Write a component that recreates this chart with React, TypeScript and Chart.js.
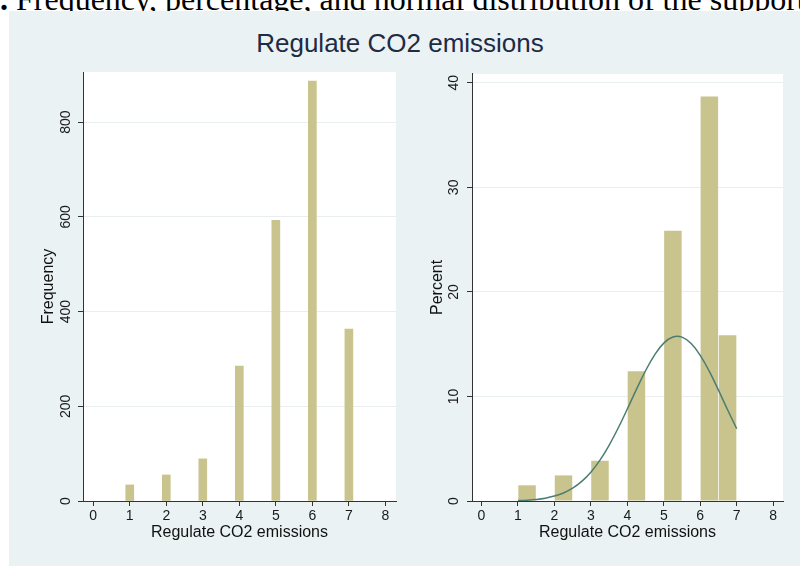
import React, { useEffect, useRef } from 'react';
import { Chart, registerables } from 'chart.js';

Chart.register(...registerables);
Chart.defaults.font.family = "'Liberation Sans', Arial, Helvetica, sans-serif";

// ---- data ----
const responseValues = [1, 2, 3, 4, 5, 6, 7];
const frequencies = [34, 55, 89, 285, 593, 887, 363];

const binStarts = [1, 2, 3, 4, 5, 6, 6.5];
const binWidth = 0.5;
const percents = [1.5, 2.45, 3.85, 12.4, 25.85, 38.7, 15.85];

const curveX = [1, 1.25, 1.5, 1.75, 2, 2.25, 2.5, 2.75, 3, 3.25, 3.5, 3.75, 4, 4.25, 4.5, 4.75, 5, 5.25, 5.5, 5.75, 6, 6.25, 6.5, 6.75, 7];
const curveY = [0.04, 0.08, 0.15, 0.27, 0.47, 0.77, 1.23, 1.88, 2.76, 3.91, 5.33, 6.98, 8.8, 10.68, 12.46, 13.98, 15.1, 15.68, 15.67, 15.06, 13.93, 12.39, 10.6, 8.73, 6.91];

const xTickValues = [0, 1, 2, 3, 4, 5, 6, 7, 8];
const freqTicks = [0, 200, 400, 600, 800];
const percentTicks = [0, 10, 20, 30, 40];

const figureTitle = 'Regulate CO2 emissions';
const xTitle = 'Regulate CO2 emissions';

// ---- styles ----
const BAR = '#c9c48d';
const CURVE = '#4b7d72';
const AXIS = '#333333';
const GRID = '#e9eff0';
const PANEL = '#eaf2f3';

const plotBg = {
  id: 'plotBg',
  beforeDraw(chart: any) {
    const { ctx, chartArea } = chart;
    if (!chartArea) return;
    ctx.save();
    ctx.fillStyle = '#ffffff';
    ctx.fillRect(chartArea.left, chartArea.top, chartArea.right - chartArea.left, chartArea.bottom - chartArea.top);
    ctx.restore();
  },
};

function xScale(min: number, max: number) {
  return {
    type: 'linear',
    min,
    max,
    offset: false,
    afterBuildTicks: (s: any) => {
      s.ticks = xTickValues.map((v) => ({ value: v }));
    },
    afterFit: (s: any) => {
      s.height = 65;
    },
    grid: { display: true, drawOnChartArea: false, drawTicks: true, tickLength: 5, tickColor: AXIS, offset: false },
    border: { display: true, color: AXIS, width: 1 },
    ticks: { padding: 2, color: '#1a1a1a', font: { size: 14 }, maxRotation: 0, minRotation: 0, autoSkip: false },
    title: { display: true, text: xTitle, color: '#111', font: { size: 16 }, padding: { top: 0, bottom: 23.6 } },
  };
}

function yScale(max: number, ticks: number[], width: number, tickPad: number, title: string, titlePad: number) {
  return {
    type: 'linear',
    min: 0,
    max,
    afterBuildTicks: (s: any) => {
      s.ticks = ticks.map((v) => ({ value: v }));
    },
    afterFit: (s: any) => {
      s.width = width;
    },
    grid: {
      color: (c: any) => (c.tick && c.tick.value === 0 ? 'rgba(0,0,0,0)' : GRID),
      drawTicks: true,
      tickLength: 5,
      tickColor: AXIS,
    },
    border: { display: true, color: AXIS, width: 1 },
    ticks: { minRotation: 90, maxRotation: 90, crossAlign: 'center', padding: tickPad, color: '#1a1a1a', font: { size: 14 } },
    title: { display: true, text: title, color: '#111', font: { size: 16 }, padding: { top: titlePad, bottom: 0 } },
  };
}

function useChart(ref: React.RefObject<HTMLCanvasElement | null>, makeConfig: () => any) {
  useEffect(() => {
    if (!ref.current) return;
    const chart = new Chart(ref.current, makeConfig());
    return () => chart.destroy();
  }, []);
}

function FrequencyChart() {
  const ref = useRef<HTMLCanvasElement>(null);
  useChart(ref, () => ({
    type: 'bar',
    data: {
      datasets: [
        {
          label: 'Frequency',
          data: responseValues.map((v, i) => ({ x: v, y: frequencies[i] })),
          backgroundColor: BAR,
          borderWidth: 0,
          barThickness: 8,
        },
      ],
    },
    options: {
      responsive: false,
      animation: false,
      layout: { padding: { left: 0, right: 4, top: 12, bottom: 0 } },
      plugins: { legend: { display: false }, tooltip: { enabled: false } },
      scales: {
        x: xScale(-0.28, 8.29),
        y: yScale(906, freqTicks, 74, 0, 'Frequency', 30),
      },
    },
    plugins: [plotBg],
  }));
  return <canvas ref={ref} width={391} height={506} style={{ display: 'block' }} />;
}

function PercentChart() {
  const ref = useRef<HTMLCanvasElement>(null);
  useChart(ref, () => ({
    type: 'bar',
    data: {
      datasets: [
        {
          type: 'line',
          label: 'Normal density',
          data: curveX.map((x, i) => ({ x, y: curveY[i] })),
          borderColor: CURVE,
          borderWidth: 1.5,
          pointRadius: 0,
          tension: 0.4,
          fill: false,
          order: 0,
        },
        {
          type: 'bar',
          label: 'Percent',
          data: binStarts.map((s, i) => ({ x: s + binWidth / 2, y: percents[i] })),
          backgroundColor: BAR,
          borderWidth: 0,
          barPercentage: 0.96,
          categoryPercentage: 1,
          order: 1,
        },
      ],
    },
    options: {
      responsive: false,
      animation: false,
      layout: { padding: { left: 0, right: 17, top: 13, bottom: 0 } },
      plugins: { legend: { display: false }, tooltip: { enabled: false } },
      scales: {
        x: xScale(-0.26, 8.27),
        y: yScale(40.85, percentTicks, 72, 5.5, 'Percent', 27.5),
      },
    },
    plugins: [plotBg],
  }));
  return <canvas ref={ref} width={400} height={506} style={{ display: 'block' }} />;
}

export default function App() {
  return (
    <div style={{ position: 'absolute', left: 0, top: 0, width: 800, height: 566, overflow: 'hidden', background: '#fff' }}>
      <div
        style={{
          position: 'absolute',
          left: -16,
          top: -17.5,
          whiteSpace: 'nowrap',
          fontFamily: "'Liberation Serif', 'Times New Roman', serif",
          fontSize: 32,
          lineHeight: '32px',
          color: '#000',
        }}
      >
        <b>1.</b> Frequency, percentage, and normal distribution of the support for regulating CO2 emissions
      </div>
      <div style={{ position: 'absolute', left: 9, top: 11, width: 791, height: 555, background: PANEL }} />
      <div
        style={{
          position: 'absolute',
          left: 0,
          top: 30,
          width: 800,
          textAlign: 'center',
          fontFamily: "'Liberation Sans', Arial, Helvetica, sans-serif",
          fontSize: 26,
          lineHeight: '26px',
          color: '#1f2a44',
        }}
      >
        {figureTitle}
      </div>
      <div style={{ position: 'absolute', left: 9, top: 60, width: 391, height: 506 }}>
        <FrequencyChart />
      </div>
      <div style={{ position: 'absolute', left: 400, top: 60, width: 400, height: 506 }}>
        <PercentChart />
      </div>
    </div>
  );
}
